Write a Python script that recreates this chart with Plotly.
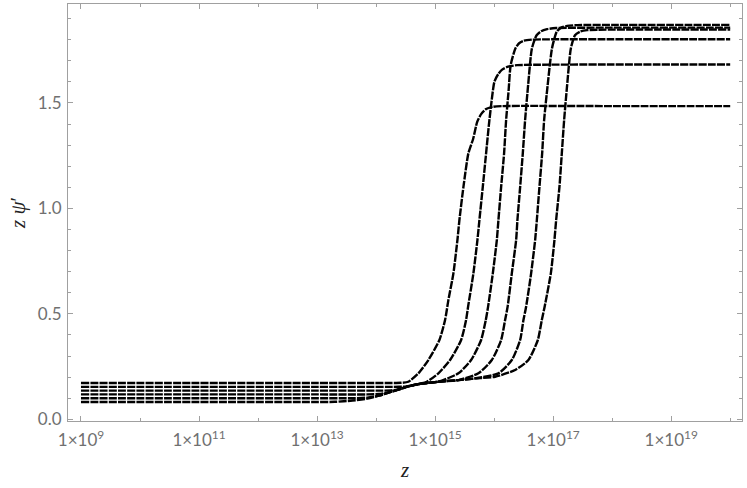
import plotly.graph_objects as go

# log10(z) and z*psi' values, one pair of lists per curve
c1_logz = [9.0, 11.0, 13.0, 14.2, 14.42, 14.547, 14.717, 14.886, 15.073, 15.169, 15.225, 15.31, 15.378, 15.412, 15.48, 15.564, 15.644, 15.712, 15.78, 15.864, 15.983, 16.136, 18.0, 20.0]
c1_val = [0.172, 0.172, 0.172, 0.172, 0.173, 0.178, 0.218, 0.281, 0.376, 0.471, 0.565, 0.692, 0.850, 0.945, 1.102, 1.261, 1.329, 1.409, 1.447, 1.471, 1.4815, 1.485, 1.485, 1.485]

c2_logz = [9.0, 11.0, 13.0, 14.3, 14.5, 14.62, 14.717, 14.859, 15.056, 15.254, 15.441, 15.525, 15.559, 15.649, 15.717, 15.751, 15.808, 15.864, 15.92, 16.005, 16.068, 16.136, 16.237, 16.39, 18.0, 20.0]
c2_val = [0.154, 0.154, 0.154, 0.154, 0.155, 0.160, 0.167, 0.178, 0.218, 0.281, 0.376, 0.471, 0.534, 0.692, 0.850, 0.945, 1.102, 1.261, 1.418, 1.600, 1.636, 1.658, 1.672, 1.679, 1.682, 1.682]

c3_logz = [9.0, 11.0, 13.0, 14.1, 14.25, 14.40, 14.55, 14.717, 14.9, 15.056, 15.395, 15.61, 15.78, 15.859, 15.898, 15.978, 16.046, 16.073, 16.119, 16.169, 16.203, 16.246, 16.28, 16.36, 16.424, 16.508, 16.64, 18.0, 20.0]
c3_val = [0.136, 0.136, 0.136, 0.136, 0.137, 0.143, 0.157, 0.167, 0.173, 0.178, 0.218, 0.281, 0.376, 0.471, 0.534, 0.692, 0.850, 0.945, 1.102, 1.261, 1.418, 1.561, 1.679, 1.758, 1.783, 1.795, 1.800, 1.802, 1.802]

c4_logz = [9.0, 11.0, 13.0, 13.85, 14.05, 14.25, 14.40, 14.55, 14.717, 15.056, 15.395, 15.734, 15.961, 16.119, 16.186, 16.229, 16.30, 16.373, 16.395, 16.441, 16.486, 16.525, 16.576, 16.64, 16.72, 16.797, 16.898, 17.05, 18.0, 20.0]
c4_val = [0.118, 0.118, 0.118, 0.118, 0.120, 0.130, 0.143, 0.157, 0.167, 0.178, 0.186, 0.218, 0.281, 0.376, 0.471, 0.534, 0.692, 0.850, 0.945, 1.102, 1.261, 1.418, 1.584, 1.758, 1.821, 1.840, 1.850, 1.855, 1.857, 1.857]

c5_logz = [9.0, 11.0, 13.0, 13.6, 13.85, 14.05, 14.25, 14.40, 14.55, 14.717, 15.056, 15.395, 15.678, 16.073, 16.30, 16.441, 16.497, 16.542, 16.627, 16.695, 16.724, 16.768, 16.814, 16.847, 16.907, 16.98, 17.06, 17.136, 17.237, 17.41, 18.0, 20.0]
c5_val = [0.100, 0.100, 0.100, 0.100, 0.103, 0.112, 0.130, 0.143, 0.157, 0.167, 0.178, 0.186, 0.194, 0.218, 0.281, 0.376, 0.471, 0.534, 0.692, 0.850, 0.945, 1.102, 1.261, 1.418, 1.584, 1.758, 1.837, 1.857, 1.865, 1.869, 1.870, 1.870]

c6_logz = [9.0, 11.0, 13.0, 13.3, 13.6, 13.85, 14.05, 14.25, 14.40, 14.55, 14.717, 15.056, 15.395, 15.678, 16.017, 16.356, 16.581, 16.741, 16.808, 16.856, 16.961, 17.022, 17.051, 17.107, 17.147, 17.186, 17.237, 17.30, 17.37, 17.458, 17.576, 17.746, 20.0]
c6_val = [0.082, 0.082, 0.082, 0.083, 0.089, 0.098, 0.112, 0.130, 0.143, 0.157, 0.167, 0.178, 0.186, 0.194, 0.202, 0.234, 0.281, 0.376, 0.471, 0.534, 0.692, 0.850, 0.945, 1.102, 1.261, 1.418, 1.584, 1.758, 1.821, 1.838, 1.845, 1.847, 1.848]

curves = [(c1_logz, c1_val), (c2_logz, c2_val), (c3_logz, c3_val),
          (c4_logz, c4_val), (c5_logz, c5_val), (c6_logz, c6_val)]

major_exps = [9, 11, 13, 15, 17, 19]
minor_exps = [10, 12, 14, 16, 18, 20]
x_tick_text = ["1×10<sup>%d</sup>" % e for e in major_exps]
y_ticks = [0.0, 0.5, 1.0, 1.5]
y_tick_text = ["0.0", "0.5", "1.0", "1.5"]

fig = go.Figure()
for lz, v in curves:
    fig.add_trace(go.Scatter(
        x=[10.0 ** a for a in lz], y=v, mode="lines",
        line=dict(color="black", width=2.4, dash="8px,1.2px", shape="spline", smoothing=0.6),
        showlegend=False, hoverinfo="skip"))

frame = "#a0a0a0"
tickfont = dict(family="Lato, Open Sans, sans-serif", size=17, color="#707070")
title_font = dict(family="Liberation Serif, Times New Roman, serif", size=21, color="#222222")
fig.update_layout(
    width=747, height=488,
    margin=dict(l=68, r=5, t=4, b=67),
    paper_bgcolor="white", plot_bgcolor="white",
    xaxis=dict(
        type="log", range=[8.78, 20.2], automargin=False,
        tickvals=[10.0 ** e for e in major_exps], ticktext=x_tick_text,
        ticks="inside", ticklen=5, tickcolor=frame, tickwidth=1,
        minor=dict(tickvals=[10.0 ** e for e in minor_exps], ticks="inside", ticklen=3, tickcolor=frame),
        showline=True, linecolor=frame, linewidth=1, mirror="allticks",
        showgrid=False, zeroline=False, tickfont=tickfont, ticklabelstandoff=4,
        title=dict(text="<i>z</i>", font=title_font, standoff=12),
    ),
    yaxis=dict(
        range=[-0.008, 1.969], automargin=False,
        tickvals=y_ticks, ticktext=y_tick_text,
        ticks="inside", ticklen=5, tickcolor=frame, tickwidth=1,
        minor=dict(dtick=0.1, tick0=0, ticks="inside", ticklen=3, tickcolor=frame),
        showline=True, linecolor=frame, linewidth=1, mirror="allticks",
        showgrid=False, zeroline=False, tickfont=tickfont, ticklabelstandoff=2,
        title=dict(text="<i>z</i> <i>ψ</i>′", font=title_font, standoff=6),
    ),
)

fig.write_html("out.html", config={"displayModeBar": False},
               post_script="document.body.style.margin='0px';document.body.style.overflow='hidden';")
